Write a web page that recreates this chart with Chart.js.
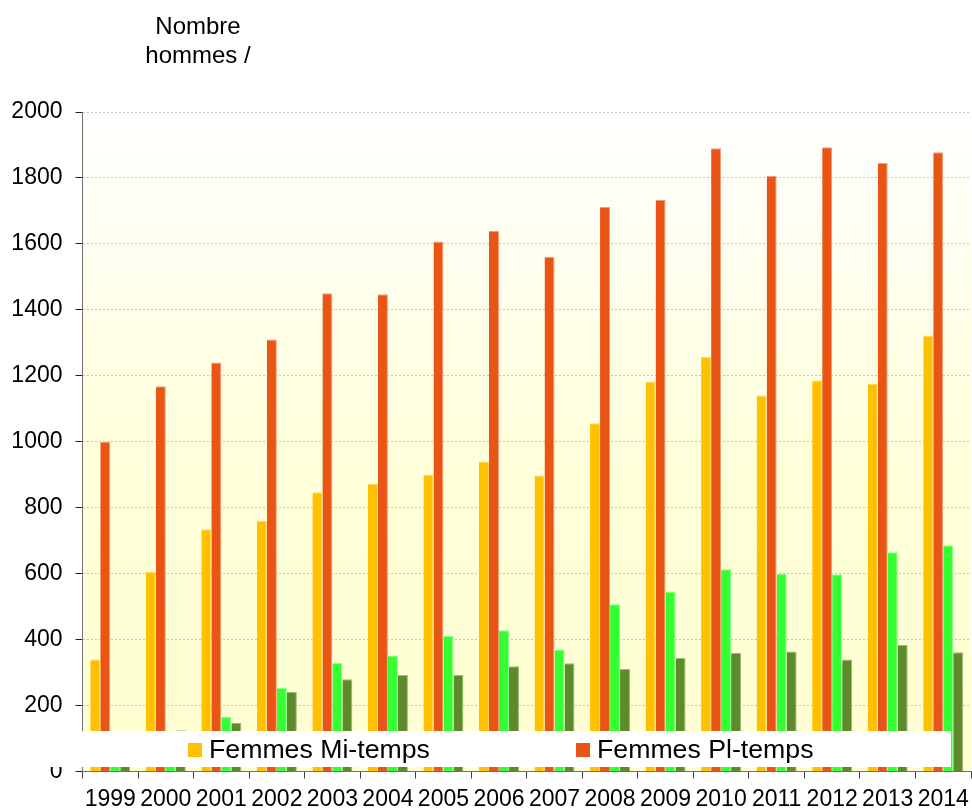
<!DOCTYPE html>
<html>
<head>
<meta charset="utf-8">
<title>Nombre hommes / femmes</title>
<script src="https://cdn.jsdelivr.net/npm/chart.js@4/dist/chart.umd.min.js"></script>
<style>
    html, body { margin: 0; padding: 0; background: #ffffff; }
    canvas { display: block; }
</style>
</head>
<body>
<canvas id="myChart" width="972" height="810"></canvas>
<script>
// #region data
const years = ['1999', '2000', '2001', '2002', '2003', '2004', '2005', '2006',
    '2007', '2008', '2009', '2010', '2011', '2012', '2013', '2014'];

const femmesMiTemps = [340, 605, 735, 760, 847, 873, 900, 940,
    898, 1056, 1183, 1258, 1140, 1186, 1177, 1322];
const femmesPlTemps = [1000, 1168, 1240, 1310, 1450, 1447, 1607, 1640,
    1561, 1712, 1733, 1890, 1807, 1893, 1845, 1878];
const hommesMiTemps = [100, 110, 165, 253, 329, 352, 411, 428,
    370, 507, 546, 613, 600, 598, 665, 686];
const hommesPlTemps = [90, 125, 148, 242, 280, 293, 293, 319,
    328, 311, 344, 360, 364, 340, 384, 362];

const yMin = 0, yMax = 2000, yStep = 200;
const titleLines = ['Nombre', 'hommes /'];
// #endregion data

const FONT = '"Liberation Sans", Arial, sans-serif';
const graph = document.querySelector('#myChart');

// pale yellow gradient behind the plot
const plotBackground = {
    id: 'plotBackground',
    beforeDraw(chart) {
        const { ctx, chartArea: a } = chart;
        const g = ctx.createLinearGradient(0, a.top, 0, a.bottom);
        g.addColorStop(0, '#ffffff');
        g.addColorStop(0.55, '#ffffd9');
        g.addColorStop(1, '#ffffd2');
        ctx.save();
        ctx.fillStyle = g;
        ctx.fillRect(a.left, a.top, a.right - a.left, a.bottom - a.top);
        ctx.restore();
    }
};

// white legend box laid over the bottom of the plot, only first two series
const overlayLegend = {
    id: 'overlayLegend',
    afterDraw(chart) {
        const ctx = chart.ctx;
        const ds = chart.data.datasets;
        ctx.save();
        ctx.fillStyle = '#ffffff';
        ctx.fillRect(40, 731, 911, 36);

        const spots = [188, 576];
        ctx.font = '26.7px ' + FONT;
        ctx.textBaseline = 'alphabetic';
        ctx.textAlign = 'left';
        spots.forEach((x, i) => {
            ctx.fillStyle = ds[i].backgroundColor;
            ctx.fillRect(x, 743, 14, 14);
            ctx.fillStyle = '#000000';
            ctx.fillText(ds[i].label, x + 21, 758);
        });

        // title in the top left corner
        ctx.font = '24px ' + FONT;
        ctx.textAlign = 'center';
        ctx.fillText(titleLines[0], 198, 34);
        ctx.fillText(titleLines[1], 198, 63);
        ctx.restore();
    }
};

function bar(label, data, color, edge) {
    return {
        label: label,
        data: data,
        backgroundColor: color,
        borderColor: edge,
        borderWidth: { top: 1, right: 1, left: 0, bottom: 0 },
        borderSkipped: false,
        categoryPercentage: 0.72,
        barPercentage: 1.0
    };
}

new Chart(graph.getContext('2d'), {
    type: 'bar',
    data: {
        labels: years,
        datasets: [
            bar('Femmes Mi-temps', femmesMiTemps, '#ffc000', '#ffd86a'),
            bar('Femmes Pl-temps', femmesPlTemps, '#e85514', '#f39a76'),
            bar('Hommes Mi-temps', hommesMiTemps, '#33ff33', '#8cff8c'),
            bar('Hommes Pl-temps', hommesPlTemps, '#5d8a2a', '#9cb97d')
        ]
    },
    options: {
        responsive: false,
        animation: false,
        layout: { padding: { top: 112, left: 11, right: 1, bottom: 0 } },
        plugins: {
            legend: { display: false },
            title: { display: false },
            tooltip: { enabled: false }
        },
        scales: {
            x: {
                offset: true,
                afterFit: (scale) => { scale.height = 38.5; },
                grid: {
                    display: true,
                    offset: true,
                    drawOnChartArea: false,
                    drawTicks: true,
                    tickLength: 7,
                    tickColor: '#404040'
                },
                border: { display: true, color: '#6f6f6f', width: 1 },
                ticks: {
                    color: '#000000',
                    font: { family: FONT, size: 23, lineHeight: 1.87 },
                    autoSkip: false,
                    maxRotation: 0,
                    minRotation: 0,
                    padding: 0
                }
            },
            y: {
                min: yMin,
                max: yMax,
                afterFit: (scale) => { scale.width = 71.5; },
                grid: {
                    color: '#c4c4c4',
                    lineWidth: 1,
                    drawTicks: true,
                    tickLength: 7,
                    tickColor: '#202020'
                },
                border: { display: true, color: '#6f6f6f', width: 1, dash: [2, 2] },
                ticks: {
                    stepSize: yStep,
                    color: '#000000',
                    font: { family: FONT, size: 23 },
                    padding: 13,
                    callback: (v) => String(v)
                }
            }
        }
    },
    plugins: [plotBackground, overlayLegend]
});
</script>
</body>
</html>
